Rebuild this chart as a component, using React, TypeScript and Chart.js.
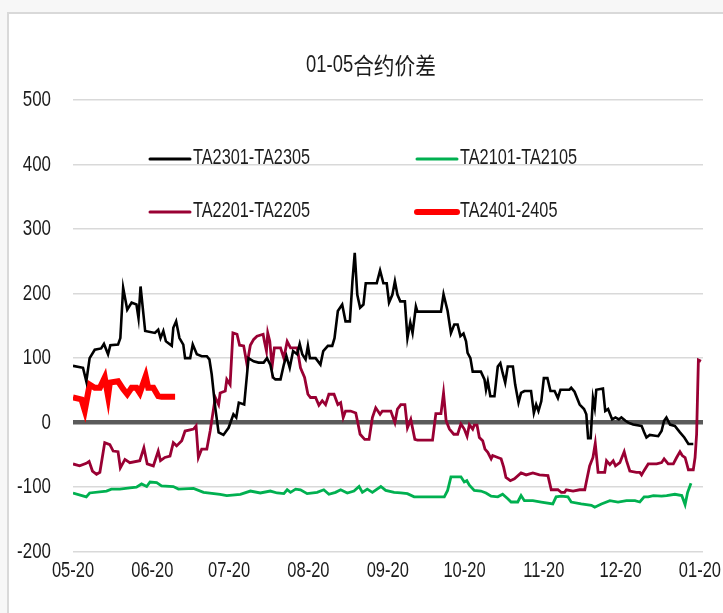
import React, { useEffect, useRef } from "react";
import { Chart, registerables } from "chart.js";

Chart.register(...registerables);

// x values are days since 05-20
const monthTicks = [0, 31, 61, 92, 123, 153, 184, 214, 245];
const monthLabels = ["05-20", "06-20", "07-20", "08-20", "09-20", "10-20", "11-20", "12-20", "01-20"];
const yTickValues = [500, 400, 300, 200, 100, 0, -100, -200];

const titleNumber = "01-05";
const titleText = "合约价差";
const seriesNames = ["TA2301-TA2305", "TA2101-TA2105", "TA2201-TA2205", "TA2401-2405"];

const blackDays = [0, 3.9, 5.2, 6.5, 8.5, 11, 12.1, 13.7, 14.6, 17.6, 18.5, 19.6, 21.2, 22.9, 24.8, 25.6, 26.4, 28.2, 32, 33.3, 34.2, 35.3, 36.3, 38.6, 39.2, 40.3, 41.6, 43.1, 43.8, 45.8, 46.8, 48.4, 50.3, 52.3, 53.3, 54.2, 55.6, 56.9, 58.8, 60.8, 62.7, 63.8, 64.8, 66.9, 68.6, 70.6, 72.5, 74.5, 75.8, 77.1, 78.2, 79.1, 81.1, 82.4, 83.4, 84.7, 86, 87.6, 88.6, 89.6, 90.9, 91.8, 92.6, 94.8, 96.7, 97.8, 99.6, 101.3, 102.2, 103.5, 105.2, 106.5, 108.2, 109.2, 110.1, 111.1, 112.2, 113.5, 114.4, 118.7, 120, 121.3, 122.6, 123.5, 124.8, 125.8, 126.8, 127.9, 129.7, 130.7, 131.8, 132.7, 134, 134.6, 143.8, 144.8, 146.4, 147.7, 149, 150.3, 151.4, 152.6, 153.6, 154.2, 155.3, 156.2, 159.4, 160.8, 161.4, 162.1, 163.1, 164.7, 166, 167, 167.9, 168.9, 169.9, 171.9, 172.8, 174.1, 175.1, 176.4, 179, 180.1, 181, 181.9, 183, 184, 185.4, 186.6, 188.2, 189.5, 190.5, 194, 194.7, 196, 198, 199.7, 200.6, 201.3, 202.3, 203.2, 203.9, 204.5, 207.1, 208, 209.1, 210.7, 212, 213.3, 214.3, 215.9, 217, 218.9, 222.2, 223.2, 224.1, 225.4, 228.7, 230, 231, 231.9, 233.3, 235.2, 237.2, 238.9, 240.5, 242.4];
const blackValues = [88, 85, 64, 100, 113, 115, 122, 106, 120, 121, 131, 209, 175, 186, 183, 162, 211, 142, 139, 144, 131, 142, 126, 119, 147, 157, 131, 121, 100, 100, 121, 106, 103, 103, 98, 75, 23, -15, -19, -8, 13, 8, 31, 28, 100, 95, 93, 93, 100, 90, 70, 67, 67, 90, 103, 85, 111, 106, 122, 106, 98, 119, 100, 100, 90, 111, 119, 119, 131, 173, 183, 157, 157, 219, 263, 198, 178, 183, 216, 216, 236, 216, 216, 186, 198, 219, 198, 188, 188, 131, 155, 139, 180, 172, 172, 199, 173, 139, 152, 152, 134, 138, 126, 108, 100, 79, 79, 67, 51, 64, 41, 41, 87, 92, 77, 62, 87, 87, 59, 31, 46, 49, 49, 15, 28, 18, 33, 69, 69, 49, 49, 38, 51, 51, 54, 48, 28, 21, 13, -24, -24, 38, 23, 51, 53, 18, 21, 5, 8, 5, 8, 3, 0, -3, -5, -15, -23, -19, -21, -13, 3, 8, -3, -5, -15, -23, -33, -33];

const greenDays = [0, 5.2, 6.5, 13.1, 15, 18.3, 22.2, 24.8, 26.8, 28.8, 30.1, 32.7, 34.6, 39.2, 41.2, 47.1, 51, 57.5, 60.1, 65.4, 69.3, 73.2, 77.1, 79.8, 82.4, 83.7, 85, 87, 88.9, 91.5, 95.4, 98, 100, 102.6, 104.6, 107.2, 109.8, 111.8, 113.1, 115, 117, 120.3, 122.2, 125.5, 128.1, 130.7, 133.3, 137.2, 145.1, 146.4, 147.7, 151.6, 152.9, 153.9, 154.9, 156.8, 159.4, 161.4, 163.4, 166, 167.9, 169.9, 171.2, 173.8, 175.1, 176.4, 179.7, 183, 187.5, 188.8, 190.8, 193.4, 194.7, 198.6, 202.6, 203.9, 206.5, 209.8, 213, 216.3, 219.6, 221.5, 223.2, 224.8, 226.8, 230, 232, 235.2, 237.9, 239.2, 240.2, 241.5];
const greenValues = [-109, -115, -109, -106, -103, -103, -101, -100, -95, -99, -92, -93, -98, -99, -103, -102, -108, -111, -113, -111, -106, -109, -106, -109, -110, -104, -108, -103, -104, -110, -108, -104, -111, -108, -104, -109, -106, -99, -108, -103, -108, -99, -105, -108, -109, -110, -115, -115, -115, -105, -84, -84, -92, -90, -97, -105, -106, -109, -114, -115, -111, -118, -123, -123, -113, -121, -121, -123, -126, -115, -114, -115, -123, -126, -128, -131, -126, -121, -123, -121, -121, -123, -115, -115, -113, -114, -113, -111, -113, -127, -108, -94];

const maroonDays = [0, 2.6, 5.2, 6.3, 7.6, 9.2, 10.5, 12.4, 14.4, 15.7, 17.6, 18.5, 20.3, 22.2, 26.1, 27.7, 29, 31.4, 33.3, 34.2, 35.9, 37.9, 39.2, 40.5, 42.5, 43.8, 47.1, 48.1, 49, 50.3, 52.3, 53.6, 55.6, 56.9, 57.5, 59.5, 60.1, 61.4, 62.5, 64.1, 65.1, 66.7, 68, 69.3, 70.6, 71.9, 74.3, 74.8, 75.6, 76.1, 76.9, 77.8, 78.7, 81.1, 82.4, 83.7, 85, 87.6, 88.9, 90.5, 91.8, 92.8, 94.8, 96.1, 97.4, 98.7, 100, 102, 103.5, 104.6, 105.6, 106.5, 108.5, 110.5, 111.4, 112.2, 114, 115.7, 117, 118.3, 120, 120.9, 124.2, 125.8, 126.8, 128.1, 129.7, 130.7, 132, 133.6, 134.6, 140.5, 141.8, 143.8, 144.8, 145.8, 147.1, 148.8, 150.3, 151.6, 152.9, 154, 154.9, 156.2, 156.8, 157.9, 158.8, 160.1, 161, 162.1, 163.4, 164, 166, 167.3, 168.3, 169.2, 170.9, 172.5, 175.1, 177.1, 179.7, 182.3, 185.6, 186.9, 189.5, 190.8, 192.1, 192.8, 195.4, 198, 200, 200.6, 201.9, 203.2, 204.1, 205.2, 207.8, 208.5, 209.8, 211.1, 212, 213.7, 215.4, 216.3, 217.6, 220.2, 221.5, 222.2, 223.2, 224.8, 228.1, 230, 231, 232.6, 234.6, 235.9, 237.2, 238.1, 239.2, 240.5, 242.4, 243.1, 243.7, 244.4, 245.4];
const maroonValues = [-64, -67, -63, -60, -75, -80, -77, -31, -34, -44, -45, -70, -57, -62, -59, -39, -64, -67, -44, -59, -54, -52, -31, -36, -28, -13, -10, -5, -54, -41, -41, -13, 39, 28, 46, 49, 67, 59, 139, 137, 120, 119, 90, 120, 129, 134, 137, 126, 111, 139, 126, 87, 116, 116, 100, 126, 116, 116, 85, 70, 44, 39, 39, 27, 34, 28, 44, 44, 28, 31, 8, 18, 18, 15, -2, -18, -26, -26, 8, 23, 13, 18, 18, 0, 21, 28, 28, -8, 5, -26, -27, -27, 14, 14, 46, 3, -10, -18, -18, -2, -10, -21, -3, -10, -4, -4, -23, -28, -41, -46, -56, -51, -54, -56, -69, -85, -90, -87, -78, -81, -78, -81, -82, -104, -104, -108, -108, -104, -106, -104, -104, -92, -67, -54, -32, -77, -77, -59, -65, -59, -67, -62, -45, -59, -75, -77, -77, -81, -74, -64, -64, -62, -56, -64, -64, -54, -45, -51, -54, -73, -73, -54, -18, 97, 95];

const redDays = [0, 3.3, 4.6, 6.5, 8.5, 10.5, 12.4, 13.7, 14.4, 17.6, 19.6, 21.2, 22.9, 24.8, 26.1, 28.4, 29.4, 31.4, 33.3, 34.6, 39.9];
const redValues = [39, 36, 19, 59, 54, 54, 70, 41, 62, 64, 52, 44, 54, 54, 46, 72, 54, 54, 41, 40, 40];

const LATIN = "'Liberation Sans', Arial, sans-serif";
const CJK = "'Noto Sans CJK SC', sans-serif";
const TEXT_COLOR = "#1c1c1c";

function pts(days: number[], vals: number[]) {
  return days.map((d, i) => ({ x: d, y: vals[i] }));
}

// draw horizontally condensed text
function drawText(ctx: any, text: string, x: number, y: number, font: string, sx: number, align: string) {
  ctx.save();
  ctx.font = font;
  ctx.textAlign = align;
  ctx.textBaseline = "middle";
  ctx.fillStyle = TEXT_COLOR;
  ctx.translate(x, y);
  ctx.scale(sx, 1);
  ctx.fillText(text, 0, 0);
  ctx.restore();
}

function textWidth(ctx: any, text: string, font: string, sx: number) {
  ctx.save();
  ctx.font = font;
  const w = ctx.measureText(text).width * sx;
  ctx.restore();
  return w;
}

const textPlugin = {
  id: "customText",
  afterDraw(chart: any) {
    const ctx = chart.ctx;
    const xs = chart.scales.x;
    const ys = chart.scales.y;
    const tickFont = `22px ${LATIN}`;
    for (const v of yTickValues) {
      drawText(ctx, String(v), 51, ys.getPixelForValue(v), tickFont, 0.77, "right");
    }
    monthTicks.forEach((v, i) => {
      drawText(ctx, monthLabels[i], xs.getPixelForValue(v), 571, tickFont, 0.75, "center");
    });
    const tf1 = `23px ${LATIN}`;
    const tf2 = `23px ${CJK}`;
    const w1 = textWidth(ctx, titleNumber, tf1, 0.8);
    const w2 = textWidth(ctx, titleText, tf2, 0.9);
    const start = 371 - (w1 + w2) / 2;
    drawText(ctx, titleNumber, start, 66, tf1, 0.8, "left");
    drawText(ctx, titleText, start + w1, 65, tf2, 0.9, "left");
    const items = [
      { label: seriesNames[0], color: "#000000", w: 3, x: 150, y: 159 },
      { label: seriesNames[1], color: "#00b050", w: 3, x: 417, y: 159 },
      { label: seriesNames[2], color: "#990033", w: 3, x: 150, y: 212 },
      { label: seriesNames[3], color: "#ff0000", w: 6, x: 417, y: 212 },
    ];
    for (const it of items) {
      ctx.save();
      ctx.strokeStyle = it.color;
      ctx.lineWidth = it.w;
      ctx.lineCap = "round";
      ctx.beginPath();
      ctx.moveTo(it.x, it.y);
      ctx.lineTo(it.x + 40, it.y);
      ctx.stroke();
      ctx.restore();
      drawText(ctx, it.label, it.x + 43, it.y - 1, `22px ${LATIN}`, 0.74, "left");
    }
  },
};

export default function App() {
  const ref = useRef<HTMLCanvasElement>(null);
  useEffect(() => {
    if (!ref.current) return;
    const chart = new Chart(ref.current, {
      type: "line",
      data: {
        datasets: [
          { label: seriesNames[0], data: pts(blackDays, blackValues), borderColor: "#000000", borderWidth: 2.6, pointRadius: 0, tension: 0 },
          { label: seriesNames[1], data: pts(greenDays, greenValues), borderColor: "#00b050", borderWidth: 2.8, pointRadius: 0, tension: 0 },
          { label: seriesNames[2], data: pts(maroonDays, maroonValues), borderColor: "#990033", borderWidth: 2.8, pointRadius: 0, tension: 0 },
          { label: seriesNames[3], data: pts(redDays, redValues), borderColor: "#ff0000", borderWidth: 6, pointRadius: 0, tension: 0 },
        ],
      },
      options: {
        responsive: false,
        animation: false,
        layout: { padding: { top: 100, right: 20, left: 0, bottom: 0 } },
        plugins: { legend: { display: false }, title: { display: false }, tooltip: { enabled: false } },
        scales: {
          x: {
            type: "linear",
            min: 0,
            max: 246.2,
            afterBuildTicks: (scale: any) => {
              scale.ticks = monthTicks.map((v) => ({ value: v }));
            },
            afterFit: (scale: any) => {
              scale.height = 61.3;
            },
            grid: { display: false, drawTicks: false },
            border: { display: false },
            ticks: { display: false, autoSkip: false, maxRotation: 0 },
          },
          y: {
            min: -200,
            max: 500,
            afterBuildTicks: (scale: any) => {
              scale.ticks = yTickValues.map((v) => ({ value: v }));
            },
            afterFit: (scale: any) => {
              scale.width = 73;
            },
            grid: {
              drawTicks: false,
              color: (c: any) => (c.tick && c.tick.value === 0 ? "#5a5a5a" : "#d9d9d9"),
              lineWidth: (c: any) => (c.tick && c.tick.value === 0 ? 4.5 : 1.5),
            },
            border: { display: false },
            ticks: { display: false },
          },
        },
      },
      plugins: [textPlugin],
    });
    return () => chart.destroy();
  }, []);

  return (
    <div style={{ position: "fixed", left: 0, top: 0, width: 723, height: 613, background: "#f7f7f7", overflow: "hidden" }}>
      <div
        style={{
          position: "absolute",
          left: 7,
          top: 12,
          width: 740,
          height: 640,
          background: "#ffffff",
          borderLeft: "2px solid #d9d9d9",
          borderTop: "2px solid #d9d9d9",
        }}
      />
      <canvas ref={ref} width={723} height={613} style={{ position: "absolute", left: 0, top: 0, width: 723, height: 613 }} />
    </div>
  );
}
